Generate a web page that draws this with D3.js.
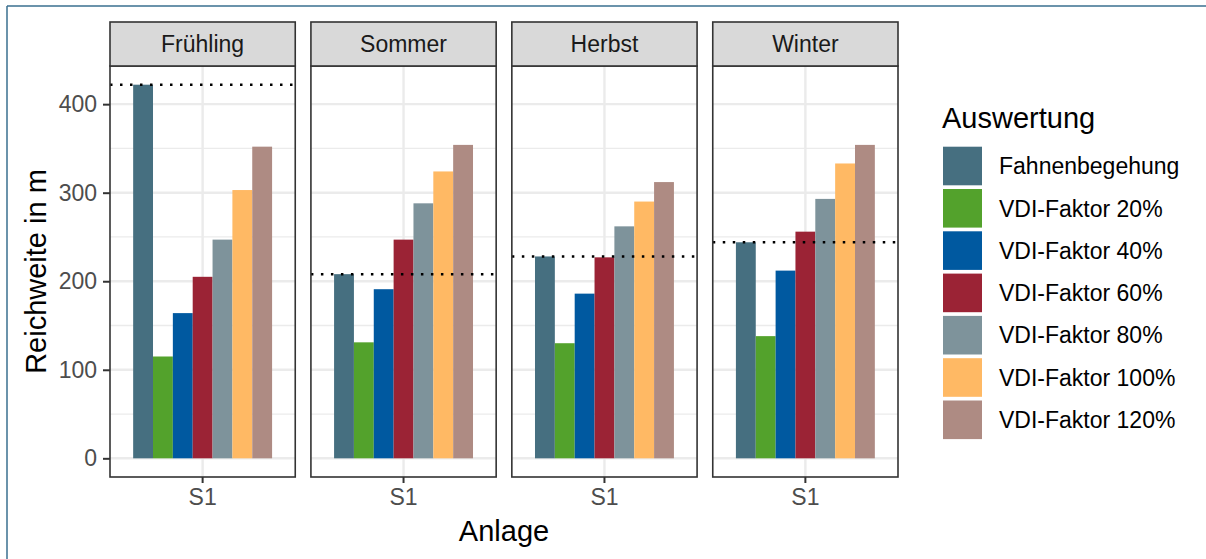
<!DOCTYPE html>
<html>
<head>
<meta charset="utf-8">
<script src="https://cdn.jsdelivr.net/npm/d3@7"></script>
<style>
  html, body { margin: 0; padding: 0; background: #fff; }
  svg { display: block; font-family: "Liberation Sans", Arial, sans-serif; }
</style>
</head>
<body>
<svg id="chart" width="1206" height="559"></svg>
<script>
// Seasons (facets), station, and evaluation series
const seasons = ["Frühling", "Sommer", "Herbst", "Winter"];
const station = ["S1"];
const series = ["Fahnenbegehung", "VDI-Faktor 20%", "VDI-Faktor 40%", "VDI-Faktor 60%",
                "VDI-Faktor 80%", "VDI-Faktor 100%", "VDI-Faktor 120%"];
const seriesColors = ["#466f80", "#53a22c", "#0059a0", "#9b2335", "#7e939b", "#ffb964", "#ae8b83"];

// Reichweite in m per season, in series order
const valuesFruehling = [422, 115, 164, 205, 247, 303, 352];
const valuesSommer    = [208, 131, 191, 247, 288, 324, 354];
const valuesHerbst    = [228, 130, 186, 227, 262, 290, 312];
const valuesWinter    = [244, 138, 212, 256, 293, 333, 354];
const seasonValues = [valuesFruehling, valuesSommer, valuesHerbst, valuesWinter];

const yTicks = [0, 100, 200, 300, 400];
const yMinor = [50, 150, 250, 350];

const svg = d3.select("#chart");

// outer frame (top and left edges)
svg.append("line").attr("x1", 7).attr("x2", 1206).attr("y1", 6).attr("y2", 6)
  .attr("stroke", "#3a6f8f").attr("stroke-width", 1.5);
svg.append("line").attr("x1", 7).attr("x2", 7).attr("y1", 6).attr("y2", 559)
  .attr("stroke", "#3a6f8f").attr("stroke-width", 1.5);

const panelTop = 66, panelBottom = 477, stripTop = 22;
const left = 110, right = 898;

const fx = d3.scaleBand().domain(seasons).range([left, right]).paddingInner(0.078).paddingOuter(0);

const maxVal = d3.max(seasonValues.flat());
const pad = maxVal * 0.05;
const y = d3.scaleLinear().domain([-pad, maxVal + pad]).range([panelBottom, panelTop]);

const x = d3.scaleBand().domain(station).range([0, fx.bandwidth()]).paddingInner(0.1).paddingOuter(0.15);
const xs = d3.scaleBand().domain(series).range([0, x.bandwidth()]).padding(0);
const color = d3.scaleOrdinal().domain(series).range(seriesColors);

const defs = svg.append("defs");

seasons.forEach((season, i) => {
  const px = fx(season);
  const w = fx.bandwidth();
  const g = svg.append("g").attr("transform", `translate(${px},0)`);

  defs.append("clipPath").attr("id", "clip" + i)
    .append("rect").attr("x", 0).attr("y", panelTop).attr("width", w).attr("height", panelBottom - panelTop);

  const inner = g.append("g").attr("clip-path", `url(#clip${i})`);

  // minor grid
  inner.selectAll(".minor").data(yMinor).join("line")
    .attr("x1", 0).attr("x2", w)
    .attr("y1", d => y(d)).attr("y2", d => y(d))
    .attr("stroke", "#ebebeb").attr("stroke-width", 1.3);
  // major grid
  inner.selectAll(".major").data(yTicks).join("line")
    .attr("x1", 0).attr("x2", w)
    .attr("y1", d => y(d)).attr("y2", d => y(d))
    .attr("stroke", "#ebebeb").attr("stroke-width", 2.4);
  inner.selectAll(".vmajor").data(station).join("line")
    .attr("x1", d => x(d) + x.bandwidth() / 2).attr("x2", d => x(d) + x.bandwidth() / 2)
    .attr("y1", panelTop).attr("y2", panelBottom)
    .attr("stroke", "#ebebeb").attr("stroke-width", 2.4);

  // bars
  const vals = seasonValues[i];
  inner.selectAll(".bar").data(series.map((s, k) => ({ s, v: vals[k] }))).join("rect")
    .attr("x", d => x("S1") + xs(d.s))
    .attr("width", xs.bandwidth())
    .attr("y", d => y(d.v))
    .attr("height", d => y(0) - y(d.v))
    .attr("fill", d => color(d.s));

  // reference line at the Fahnenbegehung value
  inner.append("line")
    .attr("x1", 0).attr("x2", w)
    .attr("y1", y(vals[0])).attr("y2", y(vals[0]))
    .attr("stroke", "#000").attr("stroke-width", 2.5)
    .attr("stroke-dasharray", "2.5,7.5");

  // panel border
  g.append("rect").attr("x", 0).attr("y", panelTop).attr("width", w).attr("height", panelBottom - panelTop)
    .attr("fill", "none").attr("stroke", "#333333").attr("stroke-width", 1.6);

  // strip
  g.append("rect").attr("x", 0).attr("y", stripTop).attr("width", w).attr("height", panelTop - stripTop)
    .attr("fill", "#d9d9d9").attr("stroke", "#333333").attr("stroke-width", 1.6);
  g.append("text").attr("x", w / 2).attr("y", (stripTop + panelTop) / 2).attr("dy", "0.36em")
    .attr("text-anchor", "middle").attr("font-size", 23).attr("fill", "#1a1a1a").text(season);

  // x axis
  const xAxis = g.append("g").attr("transform", `translate(0,${panelBottom})`)
    .call(d3.axisBottom(x).tickSize(6).tickPadding(6));
  xAxis.select(".domain").remove();
  xAxis.selectAll(".tick line").attr("stroke", "#333333").attr("stroke-width", 2);
  xAxis.selectAll(".tick text").attr("font-size", 23).attr("fill", "#4d4d4d")
    .attr("font-family", "Liberation Sans, Arial, sans-serif");
});

// y axis on the first panel
const yAxis = svg.append("g").attr("transform", `translate(${left},0)`)
  .call(d3.axisLeft(y).tickValues(yTicks).tickSize(7).tickPadding(6));
yAxis.select(".domain").remove();
yAxis.selectAll(".tick line").attr("stroke", "#333333").attr("stroke-width", 2);
yAxis.selectAll(".tick text").attr("font-size", 23).attr("fill", "#4d4d4d")
  .attr("font-family", "Liberation Sans, Arial, sans-serif");

// axis titles
svg.append("text").attr("x", (left + right) / 2).attr("y", 541)
  .attr("text-anchor", "middle").attr("font-size", 29).attr("fill", "#000").text("Anlage");
svg.append("text")
  .attr("transform", `translate(46,${(panelTop + panelBottom) / 2}) rotate(-90)`)
  .attr("text-anchor", "middle").attr("font-size", 29).attr("fill", "#000").text("Reichweite in m");

// legend
const legend = svg.append("g");
legend.append("text").attr("x", 942).attr("y", 128).attr("font-size", 29).attr("fill", "#000").text("Auswertung");
const keyStep = 42.3, keyTop = 146.7;
const rows = legend.selectAll(".row").data(series).join("g")
  .attr("transform", (d, k) => `translate(943,${keyTop + k * keyStep})`);
rows.append("rect").attr("width", 39).attr("height", 38.6).attr("fill", d => color(d));
rows.append("text").attr("x", 56).attr("y", 19.3).attr("dy", "0.36em")
  .attr("font-size", 23).attr("fill", "#000").text(d => d);
</script>
</body>
</html>
